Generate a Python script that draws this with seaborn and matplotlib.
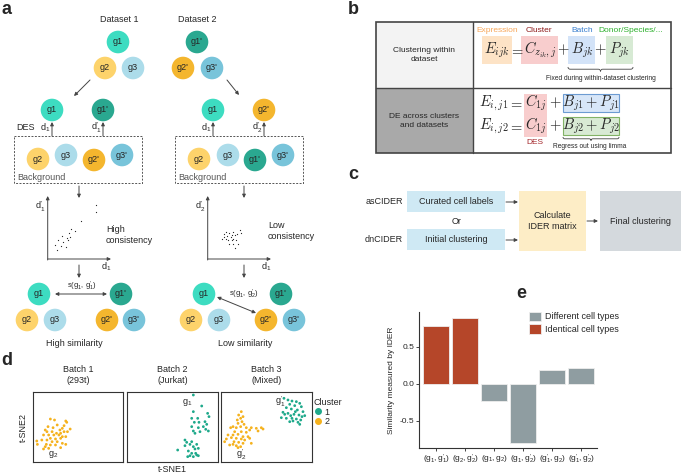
import pandas as pd
import matplotlib.pyplot as plt
import seaborn as sns
from matplotlib.patches import Circle, Rectangle, PathPatch
from matplotlib.path import Path
from matplotlib.lines import Line2D

sns.set_theme(style='white')
plt.rcParams['font.family'] = ['Liberation Sans', 'DejaVu Sans']
plt.rcParams['mathtext.fontset'] = 'custom'
plt.rcParams['mathtext.rm'] = 'Liberation Sans'
plt.rcParams['mathtext.it'] = 'Liberation Sans'
plt.rcParams['mathtext.bf'] = 'Liberation Sans:bold'

W, H = 681, 475

# ---- data ----
# panel a: toy DE-score scatter (normalised units)
hi_d1 = [0.77, 0.77, 0.53, 0.44, 0.37, 0.34, 0.23, 0.31, 0.16, 0.24, 0.32, 0.11, 0.21, 0.29, 0.15, 0.35]
hi_d1p = [0.87, 0.76, 0.61, 0.45, 0.48, 0.42, 0.37, 0.34, 0.31, 0.27, 0.31, 0.23, 0.21, 0.19, 0.15, 0.35]
lo_d1 = [.25, .29, .34, .40, .44, .26, .31, .37, .41, .47, .51, .33, .38, .29, .45, .34, .41, .48, .44, .22, .53, .39]
lo_d2p = [.41, .44, .42, .44, .39, .36, .37, .35, .33, .41, .47, .31, .30, .32, .30, .25, .25, .24, .17, .33, .42, .39]

# panel d: t-SNE coordinates (0-100 box)
b1_x = [19.3, 23.9, 36.4, 37.5, 16.7, 22.3, 26.9, 34.5, 32.6, 41.3, 29.9, 13.6, 15.5, 21.2, 26.1, 30.7, 34.5, 38.3, 11.7, 17.4,
        23.1, 28.8, 32.6, 36.4, 19.3, 25.0, 30.7, 9.8, 15.5, 21.2, 26.9, 32.6, 4.2, 4.9, 13.6, 17.4, 11.7, 25.0, 30.7, 19.3, 36.4, 14.8]
b1_y = [61.4, 60.0, 58.6, 56.7, 50.5, 49.0, 52.9, 51.9, 48.1, 47.1, 45.7, 45.7, 43.3, 43.3, 41.0, 41.0, 43.3, 43.3, 38.6, 38.6,
        38.6, 38.6, 36.2, 36.2, 33.8, 32.9, 33.8, 31.4, 31.4, 29.0, 29.0, 26.7, 30.0, 25.2, 21.9, 19.5, 18.6, 24.3, 20.5, 24.3, 25.2, 25.2]
b2_x = [72.9, 82.1, 72.9, 88.6, 77.7, 71.1, 85.7, 90.1, 79.1, 74.0, 87.6, 83.9, 71.1, 78.4, 86.5, 89.4, 72.9, 80.2, 74.7, 63.7,
        65.6, 71.1, 69.2, 76.6, 72.9, 78.4, 74.7, 55.7, 67.4, 71.1, 75.5, 76.6, 69.2, 66.7, 72.9, 78.4, 63.7]
b2_y = [95.7, 80.0, 71.9, 69.5, 62.4, 62.4, 57.6, 64.8, 56.7, 56.7, 53.8, 50.5, 50.5, 49.0, 46.7, 44.3, 44.3, 43.3, 41.0, 31.4,
        28.1, 29.0, 25.2, 25.2, 21.9, 19.5, 18.6, 17.1, 15.7, 12.4, 12.4, 10.0, 9.0, 7.6, 7.6, 9.0, 23.3]
b3g_x = [69.2, 73.6, 78.0, 82.8, 86.5, 75.5, 81.0, 88.3, 71.8, 77.3, 83.9, 90.1, 68.1, 73.6, 80.2, 85.7, 92.0, 66.3, 71.8, 78.0,
         82.8, 87.6, 75.5, 84.6, 70.0, 81.7, 89.0, 76.6, 86.5, 79.1]
b3g_y = [91.0, 88.6, 87.1, 86.2, 83.8, 82.4, 80.5, 79.0, 77.6, 75.7, 74.3, 71.9, 71.0, 69.5, 68.1, 67.1, 66.2, 63.3, 62.4, 62.4,
         61.4, 60.0, 57.6, 56.7, 68.1, 71.9, 64.8, 66.2, 53.8, 58.6]
b3o_x = [22.3, 19.4, 24.2, 21.6, 17.9, 23.1, 18.7, 25.3, 13.2, 10.6, 16.8, 21.6, 27.8, 33.3, 38.8, 44.3, 46.2, 40.7, 31.5, 15.0,
         22.3, 27.8, 7.7, 13.2, 18.7, 24.2, 29.7, 11.4, 16.8, 22.3, 31.5, 5.9, 4.0, 14.3, 19.4, 24.2, 9.5, 16.8, 21.6, 18.7, 13.2, 33.3, 26.0]
b3o_y = [71.9, 67.1, 64.8, 62.4, 60.0, 57.6, 55.2, 53.8, 50.5, 49.0, 49.0, 50.5, 49.0, 49.0, 48.1, 49.0, 47.1, 44.3, 45.7, 43.3,
         43.3, 42.4, 38.6, 38.6, 39.5, 36.2, 36.2, 34.8, 33.8, 32.9, 33.8, 32.9, 29.0, 29.0, 28.1, 26.7, 24.3, 23.3, 21.9, 20.5, 25.2, 26.7, 31.4]
batch_titles = ['Batch 1\n(293t)', 'Batch 2\n(Jurkat)', 'Batch 3\n(Mixed)']

# panel e
pairs = [r'$(g_1,g_1^{\prime})$', r'$(g_2,g_2^{\prime})$', r'$(g_1,g_2)$',
         r'$(g_1,g_2^{\prime})$', r'$(g_1^{\prime},g_2)$', r'$(g_1^{\prime},g_2^{\prime})$']
similarity = [0.78, 0.89, -0.23, -0.80, 0.19, 0.22]
cell_type = ['Identical cell types'] * 2 + ['Different cell types'] * 4

node_col = {'g1': '#3ddcc1', "g1'": '#2aa890', 'g2': '#fdd36b', 'g3': '#acdcea', "g2'": '#f4b62e', "g3'": '#78c4da'}
green, orange = '#1fa98b', '#f5b21e'
dark = '#444444'

fig = plt.figure(figsize=(W / 100, H / 100), dpi=100)
ov = fig.add_axes([0, 0, 1, 1])
ov.set_xlim(0, W)
ov.set_ylim(H, 0)
ov.axis('off')


def px_axes(x0, y0, x1, y1):
    return fig.add_axes([x0 / W, 1 - y1 / H, (x1 - x0) / W, (y1 - y0) / H])


def node(x, y, name):
    ov.add_patch(Circle((x, y), 11.3, color=node_col[name], lw=0))
    ov.text(x, y, name, ha='center', va='center', fontsize=6.5)


def arrow(x0, y0, x1, y1, style='-|>', lw=0.7):
    ov.annotate('', xy=(x1, y1), xytext=(x0, y0),
                arrowprops=dict(arrowstyle=style, color=dark, lw=lw, mutation_scale=5, shrinkA=0, shrinkB=0))


def brace(x0, x1, y, h=2.2):
    xm = (x0 + x1) / 2
    verts = [(x0, y), (x0, y + h), (x0 + h, y + h), (xm - h, y + h), (xm, y + h), (xm, y + 2 * h),
             (xm, y + h), (xm + h, y + h), (x1 - h, y + h), (x1, y + h), (x1, y)]
    codes = [Path.MOVETO, Path.CURVE3, Path.CURVE3, Path.LINETO, Path.CURVE3, Path.CURVE3,
             Path.CURVE3, Path.CURVE3, Path.LINETO, Path.CURVE3, Path.CURVE3]
    ov.add_patch(PathPatch(Path(verts, codes), fill=False, ec=dark, lw=0.6))


def label(x, y, s):
    ov.text(x, y, s, fontsize=13, fontweight='bold', ha='left', va='top')


# ================= panel a =================
label(1, 1, 'a')
ov.text(119, 20, 'Dataset 1', ha='center', va='center', fontsize=6.5)
ov.text(197, 20, 'Dataset 2', ha='center', va='center', fontsize=6.5)
for x, y, n in [(118, 42, 'g1'), (105, 68, 'g2'), (133, 68, 'g3'),
                (197, 42, "g1'"), (183, 68, "g2'"), (212, 68, "g3'"),
                (52, 110, 'g1'), (103, 110, "g1'"), (213, 110, 'g1'), (264, 110, "g2'"),
                (38, 159, 'g2'), (66, 155, 'g3'), (94, 160, "g2'"), (122, 155, "g3'"),
                (199, 159, 'g2'), (228, 155, 'g3'), (255, 160, "g1'"), (283, 155, "g3'"),
                (39, 294, 'g1'), (121, 294, "g1'"), (27, 320, 'g2'), (55, 320, 'g3'), (107, 320, "g2'"), (134, 320, "g3'"),
                (204, 294, 'g1'), (281, 294, "g1'"), (191, 320, 'g2'), (219, 320, 'g3'), (266, 320, "g2'"), (294, 320, "g3'")]:
    node(x, y, n)

arrow(90, 80, 74, 96)
arrow(227, 80, 239, 95)
for x in [52, 103, 213, 264]:
    arrow(x, 136, x, 122)
ov.text(16, 128, 'DES', ha='left', va='center', fontsize=6.5)
ov.text(50, 128, r'd$_1$', ha='right', va='center', fontsize=6.5)
ov.text(101, 128, r'd$_1^{\prime}$', ha='right', va='center', fontsize=6.5)
ov.text(211, 128, r'd$_1$', ha='right', va='center', fontsize=6.5)
ov.text(262, 128, r'd$_2^{\prime}$', ha='right', va='center', fontsize=6.5)

for bx in [14, 175]:
    ov.add_patch(Rectangle((bx, 136), 128, 47, fill=False, ec='#555555', lw=0.7, ls=(0, (2, 1.5))))
    ov.text(bx + 3, 178, 'Background', ha='left', va='center', fontsize=6.5, color='#555555')

for x in [79, 244]:
    arrow(x, 186, x, 198)
    arrow(x, 265, x, 278)

# mini scatter plots
for ox, xs, ys, ylab in [(48, hi_d1, hi_d1p, r'd$_1^{\prime}$'),
                         (208, lo_d1, lo_d2p, r'd$_2^{\prime}$')]:
    arrow(ox - 0.3, 260, ox - 0.3, 196)
    arrow(ox - 0.3, 259, ox + 63, 259)
    ov.text(ox - 8, 207, ylab, ha='center', va='center', fontsize=6.5)
    ov.text(ox + 58, 267, r'd$_1$', ha='center', va='center', fontsize=6.5)
    ax_s = px_axes(ox, 197, ox + 62, 259)
    ax_s.scatter(xs, ys, s=0.8, color='#222222', lw=0)
    ax_s.set_xlim(0, 1)
    ax_s.set_ylim(0, 1)
    ax_s.axis('off')
ov.text(106, 235, 'High\nconsistency', ha='left', va='center', fontsize=6.5, linespacing=1.3)
ov.text(268, 231, 'Low\nconsistency', ha='left', va='center', fontsize=6.5, linespacing=1.3)

arrow(55, 294, 107, 294, style='<|-|>')
arrow(217, 297, 256, 313, style='<|-|>')
ov.text(82, 286, r's(g$_1$, g$_1^{\prime}$)', ha='center', va='center', fontsize=5.5)
ov.text(244, 294, r's(g$_1$, g$_2^{\prime}$)', ha='center', va='center', fontsize=5.5)
ov.text(74, 343, 'High similarity', ha='center', va='center', fontsize=6.5)
ov.text(245, 343, 'Low similarity', ha='center', va='center', fontsize=6.5)

# ================= panel b =================
label(348, 1, 'b')
ov.add_patch(Rectangle((376, 22), 97, 66, fc='#f3f3f3', lw=0))
ov.add_patch(Rectangle((376, 88), 97, 65, fc='#a9a9a9', lw=0))
ov.plot([376, 671], [88, 88], color=dark, lw=1)
ov.plot([473, 473], [22, 153], color=dark, lw=1)
ov.add_patch(Rectangle((376, 22), 295, 131, fill=False, ec=dark, lw=1.2))
ov.text(424, 55, 'Clustering within\ndataset', ha='center', va='center', fontsize=6, linespacing=1.4)
ov.text(424, 121, 'DE across clusters\nand datasets', ha='center', va='center', fontsize=6, linespacing=1.4)

for x0, w, fc, lab, lc, cx in [(482, 30, '#fde3c6', 'Expression', '#f7a75a', 497),
                               (521, 37, '#f8cdcd', 'Cluster', '#8e1b1b', 539),
                               (568, 27, '#d3e3f8', 'Batch', '#3a7fcf', 582),
                               (606, 27, '#d7ead4', 'Donor/Species/...', '#2cb02c', 631)]:
    ov.add_patch(Rectangle((x0, 36), w, 28, fc=fc, lw=0))
    ov.text(cx, 31, lab, ha='center', va='center', fontsize=6, color=lc)

mf = dict(ha='center', va='center', fontsize=10.5, math_fontfamily='cm')
for x, s in [(497, r'$E_{ijk}$'), (516.5, r'$=$'), (540, r'$C_{z_{ik},j}$'), (563, r'$+$'),
             (582, r'$B_{jk}$'), (600.5, r'$+$'), (619, r'$P_{jk}$')]:
    ov.text(x, 50, s, **mf)
brace(568, 633, 67)
ov.text(601, 78, 'Fixed during within-dataset clustering', ha='center', va='center', fontsize=4.8)

ov.add_patch(Rectangle((524, 94), 23, 43, fc='#f8cdcd', lw=0))
ov.add_patch(Rectangle((563, 94), 56, 18, fc='#d7e6f8', ec='#6c9bd2', lw=0.8))
ov.add_patch(Rectangle((563, 117), 56, 18, fc='#d8ead4', ec='#82b366', lw=0.8))
for y, i in [(103, '1'), (126, '2')]:
    ov.text(494, y, r'$E_{i,j%s}$' % i, **mf)
    ov.text(515.5, y, r'$=$', **mf)
    ov.text(535.5, y, r'$C_{1j}$', **mf)
    ov.text(555, y, r'$+$', **mf)
    ov.text(591, y, r'$B_{j%s}+P_{j%s}$' % (i, i), **mf)
ov.text(535, 143, 'DES', ha='center', va='center', fontsize=6, color='#a3262a')
brace(563, 619, 137, h=1.8)
ov.text(590, 147, 'Regress out using limma', ha='center', va='center', fontsize=4.8)

# ================= panel c =================
label(348, 166, 'c')
ov.text(403, 202, 'asCIDER', ha='right', va='center', fontsize=6.5)
ov.text(403, 240, 'dnCIDER', ha='right', va='center', fontsize=6.5)
ov.add_patch(Rectangle((407, 191), 98, 21, fc='#cfe9f4', lw=0))
ov.add_patch(Rectangle((407, 229), 98, 21, fc='#cfe9f4', lw=0))
ov.text(456, 202, 'Curated cell labels', ha='center', va='center', fontsize=6.5)
ov.text(456, 240, 'Initial clustering', ha='center', va='center', fontsize=6.5)
ov.text(457, 221, 'Or', ha='center', va='center', fontsize=6.5)
ov.add_patch(Rectangle((519, 191), 67, 60, fc='#fdedc6', lw=0))
ov.text(552, 221, 'Calculate\nIDER matrix', ha='center', va='center', fontsize=6.5, linespacing=1.2)
ov.add_patch(Rectangle((600, 191), 81, 60, fc='#d4d9dd', lw=0))
ov.text(641, 221, 'Final clustering', ha='center', va='center', fontsize=6.5)
arrow(506, 202, 518, 202)
arrow(506, 240, 518, 240)
arrow(587, 221, 598, 221)

# ================= panel d =================
label(1, 352, 'd')
tsne = pd.concat([
    pd.DataFrame({'batch': 0, 'cluster': '2', 'x': b1_x, 'y': b1_y}),
    pd.DataFrame({'batch': 1, 'cluster': '1', 'x': b2_x, 'y': b2_y}),
    pd.DataFrame({'batch': 2, 'cluster': '1', 'x': b3g_x, 'y': b3g_y}),
    pd.DataFrame({'batch': 2, 'cluster': '2', 'x': b3o_x, 'y': b3o_y}),
])
pal = {'1': green, '2': orange}
boxes = [(33, 123), (127, 218), (221, 312)]
tags = [[(22.7, 11.4, r'g$_2$')], [(65.6, 85.3, r'g$_1$')],
        [(64.5, 85.3, r'g$_1^{\prime}$'), (22.3, 10, r'g$_2^{\prime}$')]]
for b, (x0, x1) in enumerate(boxes):
    ax = px_axes(x0, 392, x1, 462)
    sns.scatterplot(data=tsne[tsne['batch'] == b], x='x', y='y', hue='cluster', palette=pal,
                    s=4, linewidth=0, legend=False, ax=ax)
    ax.set_xlim(0, 100)
    ax.set_ylim(0, 100)
    ax.set_xticks([])
    ax.set_yticks([])
    ax.set_xlabel('')
    ax.set_ylabel('')
    for sp in ax.spines.values():
        sp.set_color('#333333')
        sp.set_linewidth(0.8)
    for tx, ty, s in tags[b]:
        ax.text(tx, ty, s, ha='center', va='center', fontsize=6.5)
    ov.text((x0 + x1) / 2, 375, batch_titles[b], ha='center', va='center', fontsize=6.5, linespacing=1.2)
    if b == 2:
        handles = [Line2D([], [], marker='o', ls='', color=pal[k], markersize=4) for k in ['1', '2']]
        leg = ax.legend(handles, ['1', '2'], title='Cluster', loc='upper left', bbox_to_anchor=(1.02, 0.92),
                        frameon=False, fontsize=6.5, title_fontsize=6.5, handletextpad=0.2, labelspacing=0.1,
                        borderaxespad=0, borderpad=0, handlelength=1)
        leg._legend_box.align = 'left'
ov.text(23, 427, 't-SNE2', ha='center', va='center', fontsize=6.5, rotation=90)
ov.text(172, 470, 't-SNE1', ha='center', va='center', fontsize=6.5)

# ================= panel e =================
label(516, 285, 'e')
ax_e = px_axes(419, 312, 597, 448)
df_e = pd.DataFrame({'pair': pairs, 'similarity': similarity, 'type': cell_type})
sns.barplot(data=df_e, x='pair', y='similarity', hue='type',
            hue_order=['Different cell types', 'Identical cell types'],
            palette={'Different cell types': '#8c9ea4', 'Identical cell types': '#cc3812'},
            dodge=False, width=0.9, edgecolor='#eeeeee', linewidth=0.6, ax=ax_e)
ax_e.set_xlim(-0.6, 5.55)
ax_e.set_ylim(-0.865, 0.97)
ax_e.set_yticks([-0.5, 0, 0.5])
ax_e.set_yticklabels(['-0.5', '0.0', '0.5'])
ax_e.tick_params(left=True, bottom=True, length=2, width=0.6, labelsize=6, pad=1.5)
ax_e.set_xlabel('')
ax_e.set_ylabel('Similarity measured by IDER', fontsize=6, labelpad=3)
sns.despine(ax=ax_e)
for sp in ['left', 'bottom']:
    ax_e.spines[sp].set_color('#333333')
    ax_e.spines[sp].set_linewidth(0.8)
ax_e.legend(loc='upper left', bbox_to_anchor=(0.6, 1.03), frameon=False, fontsize=6.5,
            handlelength=1.3, handleheight=1.3, handletextpad=0.4, borderaxespad=0, labelspacing=0.25)

fig.savefig('out.png', dpi=100)
